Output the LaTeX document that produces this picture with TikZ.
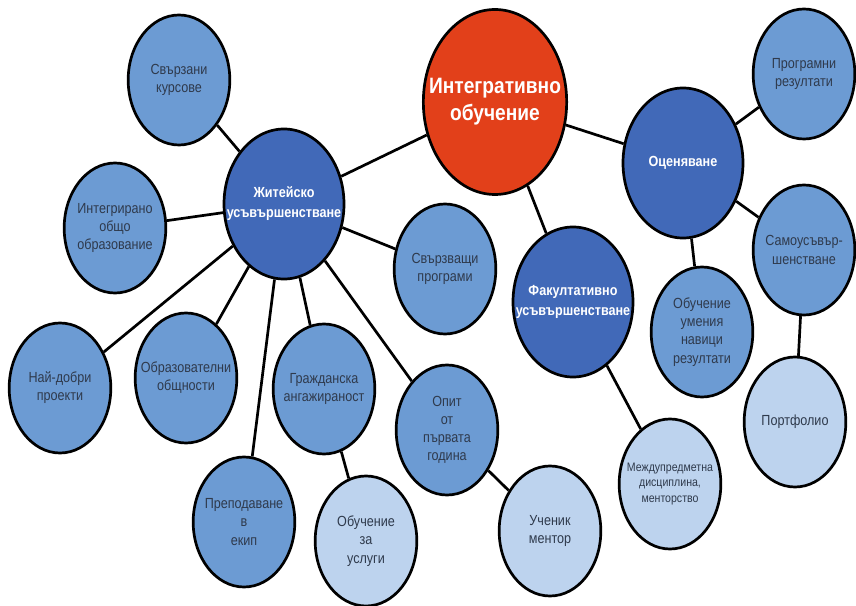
\documentclass[tikz,border=0pt]{standalone}
\usepackage{fontspec}
\setmainfont{Liberation Sans}[FakeStretch=0.86]
\usetikzlibrary{shapes.geometric}
\definecolor{HubRed}{HTML}{E2401A}
\definecolor{HubBlue}{HTML}{4169B8}
\definecolor{LeafBlue}{HTML}{6C9BD3}
\definecolor{PaleBlue}{HTML}{BDD3EE}
\definecolor{LeafText}{HTML}{2F3A4C}

\begin{document}
\begin{tikzpicture}[x=0.3mm,y=-0.3mm,
  every node/.style={font=\fontsize{12.5}{15.5}\selectfont,align=center},
  bubble/.style={ellipse,draw=black,line width=2.3pt,inner sep=-20pt},
  core/.style={bubble,fill=HubRed,text=white,minimum width=43mm,minimum height=55.5mm,
               font=\fontsize{19}{23}\selectfont\bfseries},
  hub/.style={bubble,fill=HubBlue,text=white,minimum width=36mm,minimum height=45mm,
              font=\fontsize{12.5}{17}\selectfont\bfseries},
  leaf/.style={bubble,fill=LeafBlue,text=LeafText,minimum width=30.5mm,minimum height=39mm},
  pale/.style={leaf,fill=PaleBlue},
  link/.style={line width=2.3pt}
]
  \useasboundingbox[fill=white] (0,0) rectangle (856,606);

  \node[core] (core) at (495,102) {Интегративно\\обучение};
  \node[hub] (life) at (284,204) {Житейско\\усъвършенстване};
  \node[hub] (assess) at (683,163) {Оценяване};
  \node[hub] (elective) at (573,302) {Факултативно\\усъвършенстване};

  \node[leaf] (courses) at (179,80) {Свързани\\курсове};
  \node[leaf] (general) at (115,228) {Интегрирано\\общо\\образование};
  \node[leaf] (linking) at (445,269) {Свързващи\\програми};
  \node[leaf] (best) at (60,388) {Най-добри\\проекти};
  \node[leaf] (communities) at (186,378) {Образователни\\общности};
  \node[leaf] (teaching) at (244,522) {Преподаване\\в\\екип};
  \node[leaf] (civic) at (324,389) {Гражданска\\ангажираност};
  \node[pale] (service) at (366,541) {Обучение\\за\\услуги};
  \node[leaf] (firstyear) at (447,430) {Опит\\от\\първата\\година};
  \node[pale] (mentor) at (550,531) {Ученик\\ментор};
  \node[pale,font=\fontsize{10.5}{13}\selectfont] (interdisc) at (670,484)
    {Междупредметна\\дисциплина,\\менторство};
  \node[leaf] (outcomes) at (804,74) {Програмни\\резултати};
  \node[leaf] (selfimp) at (804,250) {Самоусъвър-\\шенстване};
  \node[leaf] (skills) at (702,332) {Обучение\\умения\\навици\\резултати};
  \node[pale] (portfolio) at (795,422) {Портфолио};

  \draw[link] (core) -- (life);
  \draw[link] (core) -- (assess);
  \draw[link] (core) -- (elective);
  \foreach \leafname in {courses,general,linking,best,communities,teaching,civic,firstyear}
    \draw[link] (life) -- (\leafname);
  \draw[link] (civic) -- (service);
  \draw[link] (firstyear) -- (mentor);
  \draw[link] (elective) -- (interdisc);
  \foreach \leafname in {outcomes,selfimp,skills}
    \draw[link] (assess) -- (\leafname);
  \draw[link] (selfimp) -- (portfolio);
\end{tikzpicture}
\end{document}
